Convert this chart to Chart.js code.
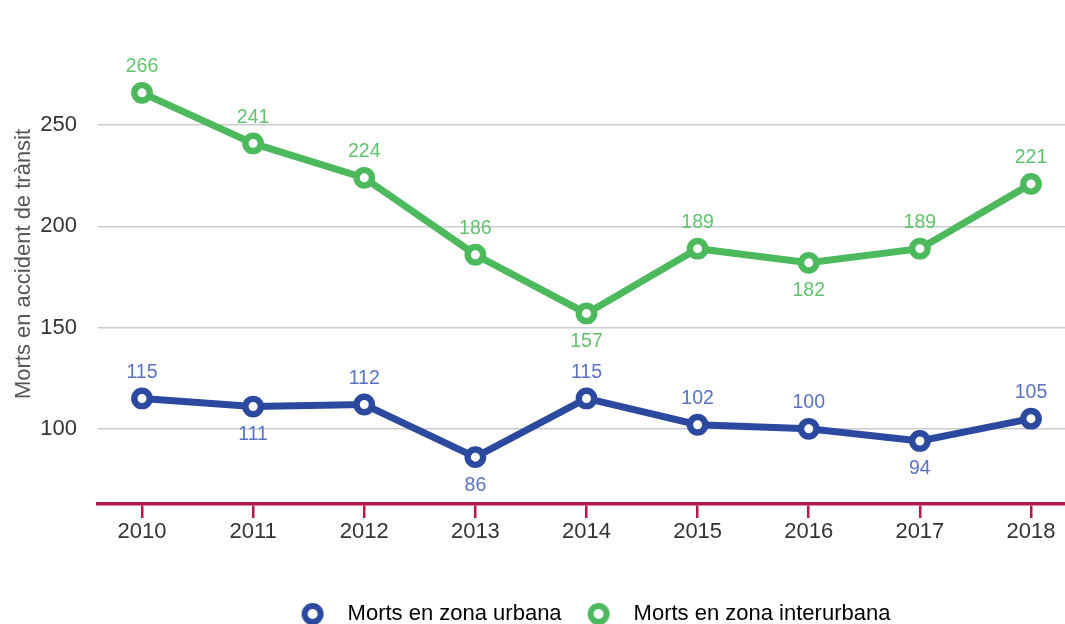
<!DOCTYPE html>
<html>
<head>
<meta charset="utf-8">
<script src="https://cdn.jsdelivr.net/npm/chart.js@4.4.1/dist/chart.umd.min.js"></script>
<style>
  html, body { margin: 0; padding: 0; background: #fff; }
  canvas { display: block; }
</style>
</head>
<body>
<canvas id="chart" width="1065" height="624"></canvas>
<script>
  // ---- data ----
  const years = ['2010', '2011', '2012', '2013', '2014', '2015', '2016', '2017', '2018'];
  const urbana = [115, 111, 112, 86, 115, 102, 100, 94, 105];
  const interurbana = [266, 241, 224, 186, 157, 189, 182, 189, 221];
  const yTicks = [100, 150, 200, 250];
  const seriesNames = ['Morts en zona urbana', 'Morts en zona interurbana'];

  const BLUE = '#2B4A9F';
  const GREEN = '#4CB95C';
  const BLUE_LABEL = '#5A72C2';
  const GREEN_LABEL = '#62C36F';
  const AXIS_RED = '#B3194B';
  const FONT = '"Liberation Sans", Arial, Helvetica, sans-serif';

  const toPoints = (arr) => arr.map((v, i) => ({ x: i, y: v }));

  // ring marker used for legend entries
  function ring(color) {
    const c = document.createElement('canvas');
    c.width = 26;
    c.height = 26;
    const g = c.getContext('2d');
    g.beginPath();
    g.arc(13, 13, 8, 0, Math.PI * 2);
    g.fillStyle = '#fff';
    g.fill();
    g.lineWidth = 6;
    g.strokeStyle = color;
    g.stroke();
    return c;
  }

  // value labels: under the point when it is a local dip, above otherwise
  const pointLabels = {
    id: 'pointLabels',
    afterDatasetsDraw(chart) {
      const ctx = chart.ctx;
      chart.data.datasets.forEach((ds, di) => {
        const meta = chart.getDatasetMeta(di);
        const vals = ds.data.map((d) => d.y);
        meta.data.forEach((pt, i) => {
          const v = vals[i];
          const dip = i > 0 && i < vals.length - 1 && v < vals[i - 1] && v < vals[i + 1];
          ctx.save();
          ctx.font = '19.5px ' + FONT;
          ctx.fillStyle = ds.labelColor;
          ctx.textAlign = 'center';
          ctx.textBaseline = 'middle';
          ctx.fillText(String(v), pt.x, pt.y + (dip ? 28 : -26));
          ctx.restore();
        });
      });
    },
  };

  // legend sits a little lower and right of the default centre
  const legendNudge = {
    id: 'legendNudge',
    afterLayout(chart) {
      const lg = chart.legend;
      if (!lg) return;
      lg.top += 11;
      lg.bottom += 11;
      lg.left += 57;
      lg.right += 57;
    },
  };

  const lineStyle = (color) => ({
    borderColor: color,
    backgroundColor: color,
    borderWidth: 7,
    pointRadius: 7.7,
    pointHoverRadius: 7.7,
    pointBorderWidth: 6.4,
    pointBackgroundColor: '#fff',
    pointBorderColor: color,
    tension: 0,
    fill: false,
  });

  new Chart(document.getElementById('chart'), {
    type: 'line',
    data: {
      datasets: [
        Object.assign({ label: seriesNames[0], data: toPoints(urbana), labelColor: BLUE_LABEL }, lineStyle(BLUE)),
        Object.assign({ label: seriesNames[1], data: toPoints(interurbana), labelColor: GREEN_LABEL }, lineStyle(GREEN)),
      ],
    },
    options: {
      responsive: false,
      animation: false,
      layout: { autoPadding: false, padding: { top: 24, left: 0, right: 0, bottom: 0 } },
      scales: {
        x: {
          type: 'linear',
          min: -0.396,
          max: 8.306,
          afterBuildTicks: (s) => { s.ticks = years.map((_, i) => ({ value: i })); },
          afterFit: (s) => {
            const lh = s.chart.legend ? s.chart.legend.height : 0;
            s.height = s.chart.height - 504 - lh;
            s.paddingLeft = 0;
            s.paddingRight = 0;
          },
          border: { display: true, color: AXIS_RED, width: 3.5 },
          grid: {
            drawOnChartArea: false,
            drawTicks: true,
            tickLength: 14,
            color: AXIS_RED,
            lineWidth: 2.5,
          },
          ticks: {
            autoSkip: false,
            maxRotation: 0,
            padding: 1,
            color: '#333',
            font: { family: FONT, size: 22 },
            callback: (v) => years[v],
          },
        },
        y: {
          min: 62.85,
          max: 300,
          afterBuildTicks: (s) => { s.ticks = yTicks.map((v) => ({ value: v })); },
          afterFit: (s) => {
            s.width = 98;
            s.paddingTop = 0;
            s.paddingBottom = 0;
          },
          border: { display: false },
          grid: { color: '#CACBCF', lineWidth: 1.5, drawTicks: false },
          ticks: {
            padding: 21,
            color: '#333',
            font: { family: FONT, size: 22 },
          },
          title: {
            display: true,
            text: 'Morts en accident de trànsit',
            color: '#555',
            font: { family: FONT, size: 22 },
            padding: { top: 11, bottom: 0 },
          },
        },
      },
      plugins: {
        legend: {
          position: 'bottom',
          labels: {
            usePointStyle: true,
            pointStyleWidth: 48,
            boxHeight: 22,
            padding: 13,
            color: '#111',
            font: { family: FONT, size: 22 },
            generateLabels: (chart) => chart.data.datasets.map((ds, i) => ({
              text: ds.label,
              pointStyle: ring(ds.borderColor),
              fillStyle: '#fff',
              strokeStyle: ds.borderColor,
              lineWidth: 0,
              hidden: false,
              datasetIndex: i,
            })),
          },
        },
        tooltip: { enabled: false },
      },
    },
    plugins: [pointLabels, legendNudge],
  });
</script>
</body>
</html>
